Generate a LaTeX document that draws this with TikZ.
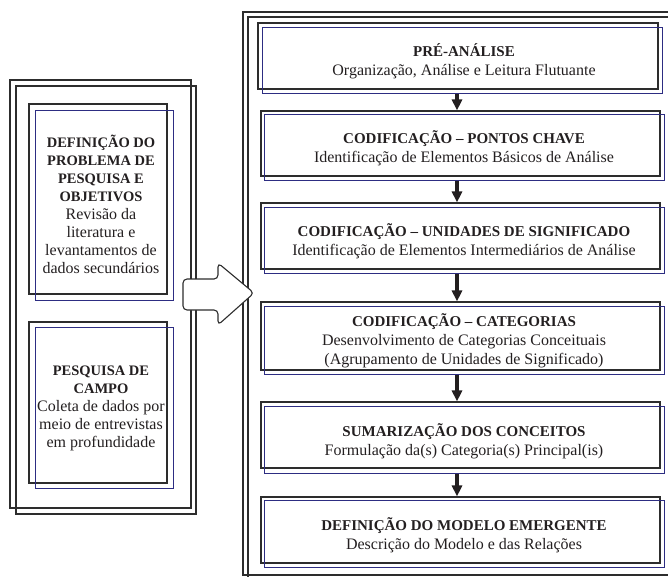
\documentclass[tikz,border=0pt]{standalone}
\usepackage{fontspec}
\setmainfont{Liberation Serif}
\usetikzlibrary{arrows.meta}
\definecolor{navy}{RGB}{45,45,130}
\definecolor{framec}{RGB}{45,45,45}
\definecolor{textc}{RGB}{35,31,32}
\tikzset{
  blk/.style={draw=framec, line width=1.1pt, inner sep=0pt},
  blu/.style={draw=navy, line width=1pt, inner sep=0pt},
  txt/.style={align=center, inner sep=0pt, text=textc, font=\fontsize{16}{19}\selectfont},
  ltxt/.style={align=center, inner sep=0pt, text=textc, font=\fontsize{16}{18}\selectfont},
  stepar/.style={line width=3.2pt, draw=textc, -{Triangle[width=10pt,length=11pt]}},
  bigarrow/.style={draw=framec, line width=1.1pt, fill=white, rounded corners=4pt},
}
\newcommand{\ttl}[1]{{\fontsize{15}{19}\selectfont\bfseries #1}}
\newcommand{\lttl}[1]{{\fontsize{14.5}{17.5}\selectfont\bfseries #1}}
\begin{document}
\begin{tikzpicture}[x=1pt,y=-1pt]
\useasboundingbox (0,0) rectangle (668,576);
\begin{scope}
\clip (0,0) rectangle (668,576);
% outer frames
\draw[blk] (10,80) rectangle (191,508);
\draw[blk] (16,86) rectangle (196,514);
\draw[blk] (243,12) rectangle (700,575);
\draw[blk] (248,17) rectangle (700,600);
\end{scope}

% left boxes
\node[blk, minimum width=138pt, minimum height=190pt] (l1) at (98,199) {};
\node[blu, minimum width=138pt, minimum height=190pt] (l1s) at (104,205) {};
\node[ltxt] (l1t) at (101,204) {\lttl{DEFINIÇÃO DO}\\\lttl{PROBLEMA DE}\\\lttl{PESQUISA E}\\\lttl{OBJETIVOS}\\Revisão da\\literatura e\\levantamentos de\\dados secundários};

\node[blk, minimum width=138pt, minimum height=161pt] (l2) at (98,402.5) {};
\node[blu, minimum width=138pt, minimum height=161pt] (l2s) at (104,407.5) {};
\node[ltxt] (l2t) at (101,408) {\lttl{PESQUISA DE}\\\lttl{CAMPO}\\Coleta de dados por\\meio de entrevistas\\em profundidade};

% right boxes
\node[blk, minimum width=400pt, minimum height=66pt] (b1) at (458,56) {};
\node[blu, minimum width=400pt, minimum height=66pt] (b1s) at (462,60) {};
\node[txt] (t1) at (464,61) {\ttl{PRÉ-ANÁLISE}\\Organização, Análise e Leitura Flutuante};

\node[blk, minimum width=399pt, minimum height=65pt] (b2) at (460.5,143.5) {};
\node[blu, minimum width=400pt, minimum height=66pt] (b2s) at (464,147) {};
\node[txt] (t2) at (464,148) {\ttl{CODIFICAÇÃO – PONTOS CHAVE}\\Identificação de Elementos Básicos de Análise};

\node[blk, minimum width=399pt, minimum height=66pt] (b3) at (460.5,236) {};
\node[blu, minimum width=400pt, minimum height=66pt] (b3s) at (464,240) {};
\node[txt] (t3) at (464,241) {\ttl{CODIFICAÇÃO – UNIDADES DE SIGNIFICADO}\\Identificação de Elementos Intermediários de Análise};

\node[blk, minimum width=399pt, minimum height=68pt] (b4) at (460.5,336) {};
\node[blu, minimum width=400pt, minimum height=68pt] (b4s) at (464,340) {};
\node[txt] (t4) at (464,341) {\ttl{CODIFICAÇÃO – CATEGORIAS}\\Desenvolvimento de Categorias Conceituais\\(Agrupamento de Unidades de Significado)};

\node[blk, minimum width=399pt, minimum height=66pt] (b5) at (460.5,435) {};
\node[blu, minimum width=400pt, minimum height=67pt] (b5s) at (464,439.5) {};
\node[txt] (t5) at (464,441) {\ttl{SUMARIZAÇÃO DOS CONCEITOS}\\Formulação da(s) Categoria(s) Principal(is)};

\node[blk, minimum width=399pt, minimum height=66pt] (b6) at (460.5,530) {};
\node[blu, minimum width=400pt, minimum height=67pt] (b6s) at (464,533.5) {};
\node[txt] (t6) at (464,535) {\ttl{DEFINIÇÃO DO MODELO EMERGENTE}\\Descrição do Modelo e das Relações};

% arrows between steps
\coordinate (ax) at (457,0);
\draw[stepar] (b1s.south -| ax) -- (b2.north -| ax);
\draw[stepar] (b2s.south -| ax) -- (b3.north -| ax);
\draw[stepar] (b3s.south -| ax) -- (b4.north -| ax);
\draw[stepar] (b4s.south -| ax) -- (b5.north -| ax);
\draw[stepar] (b5s.south -| ax) -- (b6.north -| ax);

% big block arrow
\draw[bigarrow] (183,279) -- (218,279) -- (218,263) -- (254,293) -- (218,325) -- (218,310) -- (183,310) -- cycle;
\end{tikzpicture}
\end{document}
